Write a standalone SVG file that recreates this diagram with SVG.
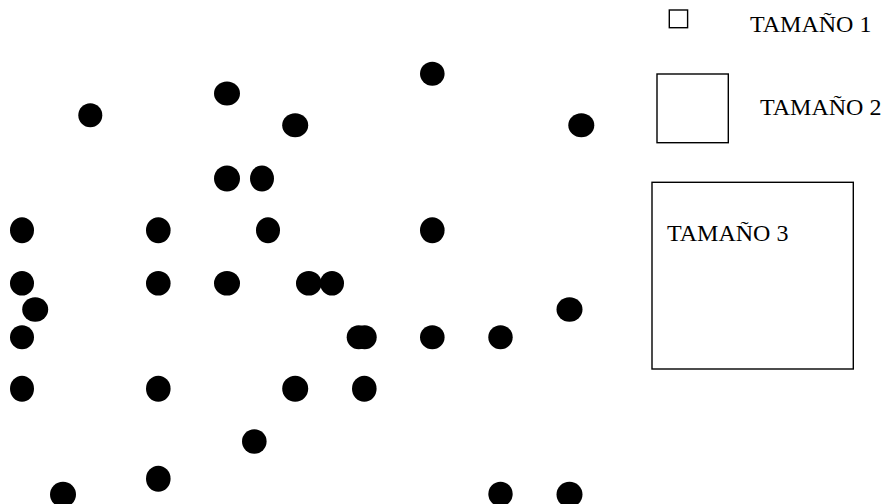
<svg xmlns="http://www.w3.org/2000/svg" width="885" height="504" viewBox="0 0 885 504">
<style>
.dot{fill:#000}
.box{fill:none;stroke:#000;stroke-width:1.4}
.lbl{font-family:"Liberation Serif","Times New Roman",serif;font-size:24px;fill:#000}
</style>
<rect width="885" height="504" fill="#fff"/>
<g id="dots">
<g id="d1"><ellipse class="dot" cx="90.3" cy="115.3" rx="12" ry="12"/></g>
<g id="d2"><ellipse class="dot" cx="227" cy="93.5" rx="13" ry="12"/></g>
<g id="d3"><ellipse class="dot" cx="295.2" cy="125.3" rx="13" ry="12"/></g>
<g id="d4"><ellipse class="dot" cx="432.3" cy="73.7" rx="12.3" ry="12"/></g>
<g id="d5"><ellipse class="dot" cx="581.3" cy="125.3" rx="13" ry="12"/></g>
<g id="d6"><ellipse class="dot" cx="227" cy="178.5" rx="13" ry="13"/></g>
<g id="d7"><ellipse class="dot" cx="262" cy="178.5" rx="12" ry="13"/></g>
<g id="d8"><ellipse class="dot" cx="22" cy="230.3" rx="12" ry="13"/></g>
<g id="d9"><ellipse class="dot" cx="158.3" cy="230.3" rx="12.3" ry="13"/></g>
<g id="d10"><ellipse class="dot" cx="268" cy="230.3" rx="12" ry="13"/></g>
<g id="d11"><ellipse class="dot" cx="432.3" cy="230.3" rx="12.3" ry="13"/></g>
<g id="d12"><ellipse class="dot" cx="22" cy="283.3" rx="12" ry="12.3"/></g>
<g id="d13"><ellipse class="dot" cx="158.3" cy="283.3" rx="12.3" ry="12.3"/></g>
<g id="d14"><ellipse class="dot" cx="227" cy="283.3" rx="13" ry="12.3"/></g>
<g id="d15"><ellipse class="dot" cx="308.8" cy="283.3" rx="12.8" ry="12.3"/></g>
<g id="d16"><ellipse class="dot" cx="332" cy="283.3" rx="12" ry="12.3"/></g>
<g id="d17"><ellipse class="dot" cx="35.2" cy="309.5" rx="13" ry="12.2"/></g>
<g id="d18"><ellipse class="dot" cx="569.5" cy="309.5" rx="13" ry="12.2"/></g>
<g id="d19"><ellipse class="dot" cx="22" cy="337.3" rx="12" ry="12"/></g>
<g id="d20"><ellipse class="dot" cx="358.7" cy="337.3" rx="12" ry="12"/></g>
<g id="d21"><ellipse class="dot" cx="364.7" cy="337.3" rx="12" ry="12"/></g>
<g id="d22"><ellipse class="dot" cx="432.3" cy="337.3" rx="12.3" ry="12"/></g>
<g id="d23"><ellipse class="dot" cx="500.5" cy="337.3" rx="12.2" ry="12"/></g>
<g id="d24"><ellipse class="dot" cx="22" cy="388.7" rx="12" ry="13"/></g>
<g id="d25"><ellipse class="dot" cx="158.3" cy="388.7" rx="12.3" ry="13"/></g>
<g id="d26"><ellipse class="dot" cx="295.2" cy="388.7" rx="13" ry="13"/></g>
<g id="d27"><ellipse class="dot" cx="364.3" cy="388.7" rx="12.3" ry="13"/></g>
<g id="d28"><ellipse class="dot" cx="254.3" cy="441.5" rx="12.3" ry="12.2"/></g>
<g id="d29"><ellipse class="dot" cx="158.3" cy="478.7" rx="12.3" ry="13"/></g>
<g id="d30"><ellipse class="dot" cx="63" cy="494.5" rx="13" ry="12.8"/></g>
<g id="d31"><ellipse class="dot" cx="500.5" cy="494" rx="12.2" ry="12.3"/></g>
<g id="d32"><ellipse class="dot" cx="569.5" cy="494.5" rx="13" ry="12.8"/></g>
</g>
<g id="legend1">
<rect class="box" x="669.3" y="10" width="18.3" height="17.7"/>
<text class="lbl" x="750" y="31.5">TAMAÑO 1</text>
</g>
<g id="legend2">
<rect class="box" x="657" y="74" width="71.3" height="68.7"/>
<text class="lbl" x="760" y="115">TAMAÑO 2</text>
</g>
<g id="legend3">
<rect class="box" x="652" y="182.3" width="201.3" height="186.7"/>
<text class="lbl" x="667" y="241">TAMAÑO 3</text>
</g>
</svg>
